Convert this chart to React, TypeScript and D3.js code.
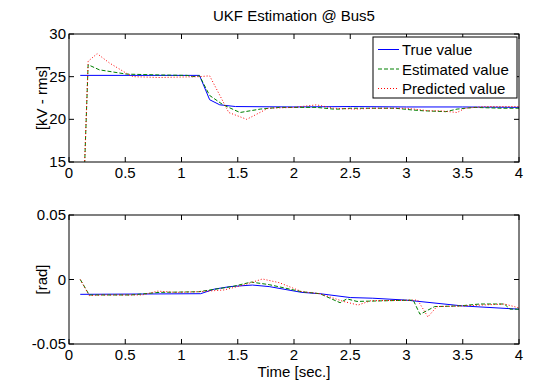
import * as d3 from "d3";

// time axis
const timeTicks = [0, 0.5, 1, 1.5, 2, 2.5, 3, 3.5, 4];

// top panel: voltage magnitude [kV - rms]
const kvTicks = [15, 20, 25, 30];
const kvTrueT = [0.1, 1.16, 1.25, 1.34, 1.48, 2.0, 2.5, 3.0, 3.5, 4.0];
const kvTrueV = [25.15, 25.15, 22.3, 21.7, 21.5, 21.45, 21.5, 21.45, 21.45, 21.4];
const kvEstT = [0.1, 0.17, 0.27, 0.51, 0.8, 1.05, 1.1, 1.16, 1.25, 1.37, 1.52, 1.7, 1.87, 2.2, 2.35, 2.4, 2.5, 2.9, 3.05, 3.15, 3.35, 3.45, 3.6, 3.85, 4.0];
const kvEstV = [0, 26.4, 25.8, 25.3, 25.2, 25.15, 25.0, 25.1, 22.8, 21.7, 20.8, 21.2, 21.4, 21.4, 21.2, 21.2, 21.3, 21.3, 21.1, 21.0, 20.9, 21.2, 21.4, 21.3, 21.3];
const kvPredT = [0.1, 0.17, 0.25, 0.36, 0.51, 0.57, 0.8, 1.16, 1.25, 1.42, 1.58, 1.77, 2.0, 2.2, 2.35, 2.55, 2.7, 3.0, 3.2, 3.3, 3.45, 3.52, 3.7, 4.0];
const kvPredV = [0, 26.8, 27.7, 26.6, 25.4, 25.0, 24.9, 25.0, 25.1, 20.8, 20.0, 21.3, 21.4, 21.7, 21.3, 21.2, 21.3, 21.3, 21.0, 21.0, 20.8, 21.3, 21.5, 21.5];

// bottom panel: angle [rad]
const radTicks = [-0.05, 0, 0.05];
const radTickLabels = ["-0.05", "0", "0.05"];
const radTrueT = [0.1, 1.17, 1.29, 1.43, 1.63, 1.78, 2.07, 2.23, 2.5, 2.7, 3.0, 3.5, 4.0];
const radTrueV = [-0.0115, -0.011, -0.0075, -0.0055, -0.0043, -0.0055, -0.01, -0.011, -0.014, -0.0145, -0.016, -0.0205, -0.023];
const radEstT = [0.1, 0.18, 0.55, 0.8, 1.15, 1.45, 1.62, 1.78, 2.07, 2.23, 2.41, 2.47, 2.56, 2.8, 3.06, 3.12, 3.25, 3.47, 3.65, 3.87, 3.92, 4.0];
const radEstV = [0, -0.012, -0.012, -0.01, -0.0095, -0.0055, -0.002, -0.004, -0.0095, -0.011, -0.018, -0.015, -0.017, -0.0165, -0.016, -0.027, -0.021, -0.0205, -0.019, -0.019, -0.023, -0.023];
const radPredT = [0.1, 0.18, 0.29, 0.65, 0.79, 0.95, 1.15, 1.38, 1.55, 1.72, 1.87, 2.07, 2.23, 2.44, 2.57, 2.68, 3.04, 3.1, 3.19, 3.27, 3.5, 3.87, 4.0];
const radPredV = [0, -0.0125, -0.012, -0.012, -0.009, -0.01, -0.0095, -0.0081, -0.0043, 0.0004, -0.0025, -0.0094, -0.011, -0.017, -0.0198, -0.0165, -0.016, -0.016, -0.029, -0.021, -0.0205, -0.019, -0.022];

const legendNames = ["True value", "Estimated value", "Predicted value"];

const WIDTH = 539;
const HEIGHT = 384;
const FONT = "'Liberation Sans', Arial, sans-serif";
const LEFT = 69;
const RIGHT = 519;
const TICK = 5;

const STYLES = [
  { stroke: "#0000ff", dash: undefined },
  { stroke: "#008000", dash: "4,2" },
  { stroke: "#ff0000", dash: "1,2" },
];

const zip = (t: number[], v: number[]) => t.map((x, i) => [x, v[i]] as [number, number]);

type PanelProps = {
  id: string;
  top: number;
  bottom: number;
  domain: [number, number];
  yTicks: number[];
  yLabels: string[];
  yTitle: string;
  series: [number, number][][];
  legend?: boolean;
};

function Panel({ id, top, bottom, domain, yTicks, yLabels, yTitle, series, legend }: PanelProps) {
  const x = d3.scaleLinear().domain([0, 4]).range([LEFT, RIGHT]);
  const y = d3.scaleLinear().domain(domain).range([bottom, top]);
  const line = d3
    .line<[number, number]>()
    .x((d) => x(d[0]))
    .y((d) => y(d[1]));

  return (
    <g>
      <defs>
        <clipPath id={id}>
          <rect x={LEFT} y={top} width={RIGHT - LEFT} height={bottom - top} />
        </clipPath>
      </defs>
      <rect x={LEFT} y={top} width={RIGHT - LEFT} height={bottom - top} fill="#fff" />
      <g clipPath={`url(#${id})`}>
        {series.map((s, i) => (
          <path
            key={i}
            d={line(s) ?? ""}
            fill="none"
            stroke={STYLES[i].stroke}
            strokeWidth={1}
            strokeDasharray={STYLES[i].dash}
          />
        ))}
      </g>
      {/* x ticks, bottom and top, pointing inward */}
      {timeTicks.map((t, i) => (
        <g key={i}>
          <line x1={x(t)} x2={x(t)} y1={bottom} y2={bottom - TICK} stroke="#000" />
          <line x1={x(t)} x2={x(t)} y1={top} y2={top + TICK} stroke="#000" />
          <text x={x(t)} y={bottom + 16} textAnchor="middle" fontSize={15} fontFamily={FONT}>
            {String(t)}
          </text>
        </g>
      ))}
      {/* y ticks, left and right */}
      {yTicks.map((v, i) => (
        <g key={i}>
          <line x1={LEFT} x2={LEFT + TICK} y1={y(v)} y2={y(v)} stroke="#000" />
          <line x1={RIGHT} x2={RIGHT - TICK} y1={y(v)} y2={y(v)} stroke="#000" />
          <text x={LEFT - 3} y={y(v) + 5} textAnchor="end" fontSize={15} fontFamily={FONT}>
            {yLabels[i]}
          </text>
        </g>
      ))}
      <rect
        x={LEFT}
        y={top}
        width={RIGHT - LEFT}
        height={bottom - top}
        fill="none"
        stroke="#000"
        strokeWidth={1}
      />
      <text
        transform={`translate(47,${(top + bottom) / 2}) rotate(-90)`}
        textAnchor="middle"
        fontSize={15}
        fontFamily={FONT}
      >
        {yTitle}
      </text>
      {legend && (
        <g>
          <rect x={373} y={37} width={144} height={61} fill="#fff" stroke="#000" />
          {legendNames.map((name, i) => {
            const cy = 49.5 + i * 19.5;
            return (
              <g key={i}>
                <line
                  x1={378}
                  x2={399}
                  y1={cy}
                  y2={cy}
                  stroke={STYLES[i].stroke}
                  strokeDasharray={STYLES[i].dash}
                />
                <text x={402} y={cy + 5.5} fontSize={15} fontFamily={FONT}>
                  {name}
                </text>
              </g>
            );
          })}
        </g>
      )}
    </g>
  );
}

export default function App() {
  return (
    <svg
      width={WIDTH}
      height={HEIGHT}
      style={{ position: "absolute", left: 0, top: 0, background: "#fff" }}
    >
      <rect width={WIDTH} height={HEIGHT} fill="#fff" />
      <text x={(LEFT + RIGHT) / 2} y={20.5} textAnchor="middle" fontSize={15} fontFamily={FONT}>
        UKF Estimation @ Bus5
      </text>
      <Panel
        id="clipTop"
        top={34}
        bottom={162}
        domain={[15, 30]}
        yTicks={kvTicks}
        yLabels={kvTicks.map(String)}
        yTitle="[kV - rms]"
        series={[zip(kvTrueT, kvTrueV), zip(kvEstT, kvEstV), zip(kvPredT, kvPredV)]}
        legend
      />
      <Panel
        id="clipBottom"
        top={215}
        bottom={344}
        domain={[-0.05, 0.05]}
        yTicks={radTicks}
        yLabels={radTickLabels}
        yTitle="[rad]"
        series={[zip(radTrueT, radTrueV), zip(radEstT, radEstV), zip(radPredT, radPredV)]}
      />
      <text x={(LEFT + RIGHT) / 2} y={377} textAnchor="middle" fontSize={15} fontFamily={FONT}>
        Time [sec.]
      </text>
    </svg>
  );
}
